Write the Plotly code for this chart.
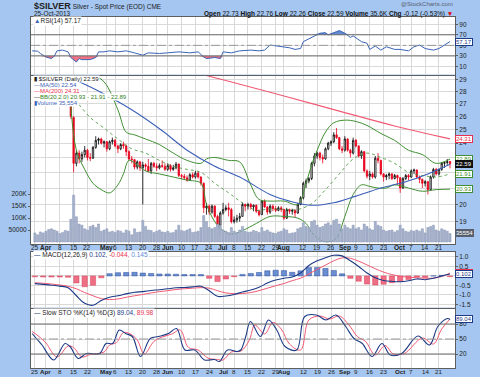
import numpy as np
import pandas as pd
import plotly.graph_objects as go

# ---------------- data ----------------
holidays = ["2013-03-29", "2013-05-27", "2013-07-04", "2013-09-02"]
dates = [d for d in pd.bdate_range("2013-03-25", "2013-10-25") if d.strftime("%Y-%m-%d") not in holidays]
idx = list(range(len(dates)))

opens = [28.70, 28.60, 28.55, 28.40, 28.30, 28.10, 27.70, 27.20, 27.00, 27.50, 27.40, 27.70, 27.60, 27.10, 25.90,
         22.60, 23.30, 22.90, 23.20, 23.50, 23.00, 22.95, 23.70, 24.20, 24.30, 24.00, 24.10, 23.60, 24.10, 24.20,
         23.80, 23.60, 23.90, 23.80, 23.40, 22.90, 22.85, 22.35, 22.70, 22.30, 22.50, 22.40, 22.10, 22.60, 22.40,
         22.30, 22.45, 22.40, 22.20, 22.45, 22.20, 22.30, 22.55, 21.80, 21.75, 21.65, 21.50, 21.85, 21.70, 21.95,
         21.70, 21.30, 19.80, 19.90, 19.55, 19.90, 19.30, 18.80, 19.50, 19.70, 19.80, 19.70, 19.00, 19.10, 19.20,
         19.30, 20.00, 19.90, 20.00, 19.85, 19.95, 19.60, 19.40, 20.20, 19.85, 19.55, 19.90, 19.75, 19.65, 19.80,
         19.70, 19.20, 19.70, 19.60, 19.65, 19.50, 20.00, 20.40, 21.30, 21.45, 21.60, 22.60, 23.10, 23.30, 23.00,
         22.90, 23.60, 24.00, 24.10, 24.60, 24.40, 23.60, 23.50, 24.30, 23.50, 23.30, 24.20, 23.80, 23.10, 23.40,
         22.10, 21.75, 21.90, 21.70, 22.95, 22.80, 21.90, 21.70, 21.80, 21.90, 21.60, 21.80, 21.65, 21.00, 21.60,
         21.80, 21.70, 22.10, 22.15, 21.70, 21.55, 21.30, 21.40, 20.90, 21.70, 22.20, 21.90, 22.20, 22.60, 22.65,
         22.73]
highs = [28.95, 28.80, 28.75, 28.60, 28.45, 28.20, 27.85, 27.50, 27.70, 27.65, 27.90, 27.85, 27.75, 27.20, 26.00,
         23.50, 23.50, 23.40, 23.80, 23.60, 23.30, 23.80, 24.50, 24.40, 24.40, 24.20, 24.15, 24.20, 24.40, 24.30,
         23.90, 24.00, 24.10, 23.90, 23.50, 23.10, 22.90, 22.80, 22.75, 22.70, 22.60, 22.90, 22.70, 22.70, 22.60,
         22.60, 22.80, 22.60, 22.60, 22.55, 22.50, 22.70, 22.60, 21.90, 21.90, 21.80, 21.95, 22.00, 22.10, 22.10,
         21.75, 21.35, 20.10, 20.00, 20.00, 19.95, 19.40, 19.60, 20.10, 19.95, 20.10, 19.80, 19.30, 19.40, 19.50,
         20.10, 20.05, 20.10, 20.10, 20.00, 20.00, 19.70, 20.25, 20.30, 19.90, 20.00, 20.00, 19.90, 19.90, 19.90,
         19.75, 19.80, 19.75, 19.75, 19.70, 20.10, 20.50, 21.40, 21.60, 21.70, 22.70, 23.30, 23.40, 23.40, 23.20,
         23.70, 24.10, 24.20, 24.80, 25.10, 24.45, 23.80, 24.50, 24.35, 23.60, 24.40, 24.30, 23.85, 23.50, 23.45,
         22.20, 22.10, 22.00, 23.10, 23.30, 22.85, 21.95, 21.90, 22.00, 21.95, 21.90, 21.85, 21.70, 21.70, 21.90,
         21.90, 22.20, 22.25, 22.20, 21.80, 21.60, 21.50, 21.45, 21.80, 22.30, 22.30, 22.25, 22.70, 22.70, 22.90,
         22.76]
lows = [28.40, 28.45, 28.30, 28.20, 27.95, 27.60, 27.05, 26.80, 26.85, 27.20, 27.30, 27.40, 27.10, 25.80, 22.00,
        22.40, 22.60, 22.70, 23.00, 22.80, 22.75, 22.90, 23.60, 23.90, 23.90, 23.70, 23.40, 23.50, 23.90, 23.70,
        23.30, 23.50, 23.60, 23.10, 22.80, 22.60, 22.20, 22.20, 22.10, 20.00, 22.10, 22.00, 21.90, 22.30, 22.10,
        22.20, 22.30, 22.10, 22.10, 22.05, 22.10, 22.20, 21.70, 21.55, 21.50, 21.40, 21.45, 21.60, 21.60, 21.60,
        21.15, 19.50, 19.40, 19.40, 19.45, 19.20, 18.60, 18.20, 19.40, 19.60, 19.30, 18.90, 18.90, 18.95, 19.00,
        19.30, 19.60, 19.70, 19.70, 19.60, 19.50, 19.30, 19.40, 19.80, 19.40, 19.45, 19.60, 19.55, 19.60, 19.55,
        19.10, 19.15, 19.45, 19.40, 19.25, 19.45, 19.95, 20.30, 21.00, 21.30, 21.50, 22.40, 22.90, 22.80, 22.60,
        22.85, 23.50, 23.80, 24.00, 24.30, 23.50, 23.30, 23.40, 23.40, 23.00, 23.20, 23.70, 23.00, 22.90, 22.00,
        21.60, 21.50, 21.60, 21.60, 22.60, 21.80, 21.40, 21.50, 21.55, 21.50, 21.55, 21.20, 20.70, 20.95, 21.50,
        21.50, 21.65, 21.90, 21.60, 21.30, 21.00, 21.10, 20.60, 20.85, 21.60, 21.80, 21.80, 22.10, 22.30, 22.50,
        22.26]
closes = [28.60, 28.55, 28.40, 28.30, 28.10, 27.70, 27.20, 27.00, 27.50, 27.40, 27.70, 27.60, 27.25, 26.00, 22.60,
          23.30, 22.90, 23.20, 23.50, 23.00, 22.95, 23.70, 24.20, 24.30, 24.00, 24.10, 23.60, 24.10, 24.20, 23.80,
          23.60, 23.90, 23.80, 23.40, 22.90, 22.85, 22.35, 22.70, 22.30, 22.50, 22.40, 22.10, 22.60, 22.40, 22.30,
          22.45, 22.40, 22.20, 22.45, 22.20, 22.30, 22.55, 21.80, 21.75, 21.65, 21.50, 21.85, 21.70, 21.95, 21.70,
          21.30, 19.80, 19.90, 19.55, 19.90, 19.30, 18.80, 19.50, 19.70, 19.80, 19.70, 19.00, 19.10, 19.20, 19.30,
          20.00, 19.90, 20.00, 19.85, 19.95, 19.60, 19.40, 20.20, 19.85, 19.55, 19.90, 19.75, 19.65, 19.80, 19.70,
          19.20, 19.70, 19.60, 19.65, 19.50, 20.00, 20.40, 21.30, 21.45, 21.60, 22.60, 23.10, 23.30, 23.00, 22.90,
          23.60, 24.00, 24.10, 24.60, 24.40, 23.60, 23.50, 24.30, 23.50, 23.30, 24.20, 23.80, 23.10, 23.40, 22.10,
          21.75, 21.90, 21.70, 22.95, 22.80, 21.90, 21.70, 21.80, 21.90, 21.60, 21.80, 21.65, 21.00, 21.60, 21.80,
          21.70, 22.10, 22.15, 21.70, 21.55, 21.30, 21.40, 20.90, 21.70, 22.20, 21.90, 22.20, 22.60, 22.65, 22.71,
          22.59]
volume = [38000, 30000, 42000, 38000, 45000, 52000, 55000, 50000, 45000, 35000, 40000, 48000, 45000, 95000, 195000,
          105000, 75000, 70000, 55000, 50000, 65000, 70000, 60000, 75000, 45000, 50000, 55000, 42000, 45000, 40000,
          48000, 45000, 38000, 50000, 45000, 30000, 55000, 40000, 42000, 90000, 65000, 50000, 48000, 40000, 45000,
          50000, 42000, 40000, 45000, 38000, 40000, 50000, 70000, 48000, 45000, 50000, 55000, 40000, 42000, 45000,
          60000, 110000, 85000, 60000, 55000, 60000, 75000, 70000, 50000, 45000, 40000, 60000, 45000, 40000, 50000,
          65000, 45000, 40000, 42000, 48000, 45000, 40000, 60000, 45000, 50000, 42000, 38000, 35000, 42000, 45000,
          55000, 50000, 35000, 38000, 40000, 55000, 60000, 80000, 65000, 60000, 85000, 90000, 70000, 60000, 65000,
          75000, 80000, 70000, 90000, 95000, 75000, 55000, 70000, 60000, 55000, 70000, 55000, 60000, 50000, 75000,
          65000, 55000, 50000, 85000, 70000, 65000, 50000, 45000, 48000, 50000, 42000, 48000, 70000, 55000, 45000,
          42000, 48000, 45000, 50000, 45000, 55000, 38000, 60000, 65000, 70000, 50000, 45000, 55000, 50000, 45000,
          35554]

# overlays (trading-day index, value)
ma50_idx = [16, 24, 35, 46, 55, 65, 74, 85, 92, 100, 108, 116, 125, 134, 142, 150]
ma50_val = [28.8, 27.9, 26.5, 24.9, 23.5, 22.4, 21.7, 20.6, 20.2, 19.95, 20.1, 20.5, 21.0, 21.4, 21.9, 22.54]
ma200_idx = [55, 70, 90, 110, 130, 150]
ma200_val = [29.79, 28.85, 27.62, 26.40, 25.26, 24.31]
bbu_idx = [13, 15, 20, 25, 30, 33, 36, 40, 45, 50, 55, 60, 62, 65, 70, 74, 78, 81, 85, 90, 95, 98, 100, 102, 105,
           108, 112, 116, 120, 125, 130, 135, 140, 145, 150]
bbu_val = [28.8, 29.5, 29.5, 28.8, 26.5, 24.8, 24.6, 24.3, 23.9, 23.3, 22.8, 22.6, 22.9, 23.0, 22.8, 22.7, 21.2, 20.3,
           20.2, 20.2, 20.0, 21.3, 22.5, 23.5, 24.8, 25.5, 25.7, 25.6, 25.3, 24.7, 24.2, 23.5, 23.2, 22.6, 22.89]
bbm_idx = [13, 16, 20, 25, 30, 35, 40, 45, 50, 55, 60, 65, 70, 75, 80, 85, 90, 95, 100, 105, 110, 115, 120, 125, 130,
           135, 140, 145, 150]
bbm_val = [27.6, 26.9, 25.9, 25.1, 24.3, 23.6, 23.3, 22.8, 22.4, 22.2, 22.0, 21.3, 20.7, 20.1, 19.65, 19.75, 19.7,
           19.7, 20.05, 20.9, 21.9, 22.9, 23.3, 23.0, 22.6, 22.0, 21.8, 21.7, 21.91]
bbl_idx = [13, 15, 18, 21, 24, 27, 30, 32, 34, 37, 40, 45, 50, 55, 60, 62, 65, 68, 71, 75, 80, 85, 90, 95, 98, 100,
           103, 106, 109, 112, 115, 118, 121, 124, 127, 130, 135, 140, 145, 150]
bbl_val = [26.8, 23.5, 22.2, 21.3, 20.9, 20.7, 21.2, 21.9, 22.8, 22.5, 22.1, 21.9, 21.7, 21.5, 21.3, 20.0, 19.0, 18.5,
           18.3, 18.5, 18.9, 19.3, 19.3, 19.2, 18.9, 18.4, 18.0, 17.9, 18.1, 19.3, 20.6, 21.2, 21.1, 21.0, 21.0, 21.2,
           21.0, 20.8, 20.9, 20.93]

rsi_idx = [-1, 1, 2, 4, 6, 7, 8, 10, 12, 13, 15, 16, 17, 20, 22, 23, 25, 27, 30, 33, 36, 39, 41, 45, 48, 52, 56, 59,
           61, 62, 65, 67, 68, 71, 74, 78, 81, 83, 85, 89, 92, 94, 96, 97, 100, 103, 105, 106, 109, 110, 112, 114,
           115, 118, 120, 121, 123, 125, 127, 130, 132, 135, 137, 139, 141, 144, 146, 148, 150]
rsi_val = [39.6, 39, 34.6, 28, 25, 29.5, 39.6, 41, 37.7, 27, 18.5, 25, 23, 23, 27, 37.7, 37.7, 39.6, 37.7, 39.6, 35.8,
           31.3, 35.8, 34.6, 35.8, 37.7, 35.8, 37.7, 28, 25, 27, 25, 37.7, 35.8, 39.6, 41, 39.6, 41, 50.6, 47.3, 45.4,
           42.3, 44, 57, 65, 73, 74, 70, 76, 78, 73, 65, 68, 57, 54, 42.3, 48.7, 41, 47.3, 42.3, 42.3, 39.6, 47.3, 50.6,
           44, 41, 44, 50.6, 57.17]

macd_idx = list(range(0, 151, 3))
macd_val = [-0.41, -0.45, -0.49, -0.54, -0.62, -1.05, -1.45, -1.55, -1.30, -1.13, -1.05, -0.95, -0.86, -0.83, -0.77,
            -0.73, -0.68, -0.63, -0.61, -0.58, -0.55, -0.78, -1.08, -1.06, -0.98, -0.85, -0.75, -0.60, -0.38, -0.22,
            -0.12, -0.06, 0.15, 0.55, 0.80, 0.96, 1.09, 1.06, 0.80, 0.50, 0.15, -0.10, -0.24, -0.29, -0.31, -0.26,
            -0.16, -0.20, -0.12, 0.00, 0.102]
signal_val = [-0.36, -0.39, -0.43, -0.48, -0.55, -0.68, -0.88, -1.05, -1.20, -1.25, -1.22, -1.13, -1.05, -0.98, -0.90,
              -0.83, -0.78, -0.72, -0.68, -0.65, -0.62, -0.65, -0.78, -0.90, -0.94, -0.93, -0.88, -0.78, -0.65, -0.52,
              -0.40, -0.25, -0.12, 0.10, 0.35, 0.57, 0.80, 0.95, 0.93, 0.78, 0.58, 0.38, 0.20, 0.07, -0.02, -0.07,
              -0.10, -0.12, -0.12, -0.03, 0.145]

stok_idx = [-1, 1, 2.6, 6.8, 10.9, 12.7, 15.7, 18.6, 23.4, 25.7, 28.1, 30.5, 32.8, 35.2, 38.2, 41.7, 44.7, 48.3,
            51.2, 54.2, 57.8, 61.3, 64.9, 66.7, 69.6, 73.2, 74.4, 76.2, 77.9, 81.5, 84.4, 87.4, 90.4, 94.6, 97.5,
            101.7, 105.2, 108.8, 112.3, 115.3, 118.3, 121.8, 125.4, 128.4, 132.5, 138.4, 142.6, 145.6, 149.1, 150]
stok_val = [61, 48, 38, 8, 41, 35, 11, 21, 21, 41, 41, 68, 61, 55, 15, 51, 55, 61, 71, 28, 28, 8, 9, 5, 28, 25, 28,
            55, 85, 55, 88, 68, 35, 28, 95, 98, 88, 98, 75, 51, 41, 15, 41, 18, 21, 56, 38, 75, 91, 89.04]
stod_idx = [-1, 1.5, 4, 8, 12, 14, 17, 20, 25, 27, 29.5, 32, 34.5, 37, 39.5, 43, 46, 49.5, 52.5, 55.5, 59, 62.5, 66,
            68, 71, 74.5, 77.5, 79.5, 83, 86, 89, 92, 96, 99, 103, 106.5, 110, 113.5, 116.5, 119.5, 123, 126.5,
            129.5, 133.5, 140, 144, 147, 150]
stod_val = [65, 55, 42, 14, 36, 33, 14, 19, 24, 38, 43, 63, 60, 48, 20, 45, 54, 60, 68, 33, 28, 12, 9, 8, 24, 26, 48,
            78, 60, 83, 70, 40, 28, 88, 96, 90, 96, 78, 55, 45, 18, 37, 20, 21, 52, 40, 70, 89.98]

tick_dates = ["2013-03-25", "2013-04-01", "2013-04-08", "2013-04-15", "2013-04-22", "2013-05-01", "2013-05-06",
              "2013-05-13", "2013-05-20", "2013-05-28", "2013-06-03", "2013-06-10", "2013-06-17", "2013-06-24",
              "2013-07-01", "2013-07-08", "2013-07-15", "2013-07-22", "2013-07-29", "2013-08-01", "2013-08-12",
              "2013-08-19", "2013-08-26", "2013-09-03", "2013-09-09", "2013-09-16", "2013-09-23", "2013-10-01",
              "2013-10-07", "2013-10-14", "2013-10-21"]
tick_text = ["25", "Apr", "8", "15", "22", "May", "6", "13", "20", "28", "Jun", "10", "17", "24", "Jul", "8", "15",
             "22", "29", "Aug", "12", "19", "26", "Sep", "9", "16", "23", "Oct", "7", "14", "21"]
month_names = {"Apr", "May", "Jun", "Jul", "Aug", "Sep", "Oct"}

# ---------------- geometry helpers ----------------
W, H = 480, 377
ML, MR, MT, MB = 27, 22, 17, 9
PW, PH = W - ML - MR, H - MT - MB


def py(y):  # pixel y -> paper
    return (H - MB - y) / PH


def px(x):
    return (x - ML) / PW


date_str = [d.strftime("%Y-%m-%d") for d in dates]
tick_idx = [date_str.index(t) for t in tick_dates]
XR = [-1.4, 151.8]

FONT = "Liberation Sans"
NAVY = "#1d3a86"
RED = "#e8304f"
PINK = "#f25a74"
GREEN = "#3f8f32"
GRID = "#d9d9d9"
BORDER = "#5e5e5e"

fig = go.Figure()

# ---- main panel ----
fig.add_trace(go.Bar(x=idx, y=volume, xaxis="x2", yaxis="y5",
                     marker=dict(color="#a7b3cd", line=dict(color="#8593b3", width=0.5)), hoverinfo="skip"))
fig.add_trace(go.Scatter(x=bbu_idx, y=bbu_val, xaxis="x2", yaxis="y2", mode="lines",
                         line=dict(color=GREEN, width=1, shape="spline")))
fig.add_trace(go.Scatter(x=bbl_idx, y=bbl_val, xaxis="x2", yaxis="y2", mode="lines",
                         line=dict(color=GREEN, width=1, shape="spline")))
fig.add_trace(go.Scatter(x=bbm_idx, y=bbm_val, xaxis="x2", yaxis="y2", mode="lines",
                         line=dict(color=GREEN, width=0.8, dash="dot", shape="spline")))
fig.add_trace(go.Scatter(x=ma200_idx, y=ma200_val, xaxis="x2", yaxis="y2", mode="lines",
                         line=dict(color=PINK, width=1.1, shape="spline")))
fig.add_trace(go.Scatter(x=ma50_idx, y=ma50_val, xaxis="x2", yaxis="y2", mode="lines",
                         line=dict(color="#3b5fb8", width=1.1, shape="spline")))
fig.add_trace(go.Candlestick(x=idx, open=opens, high=highs, low=lows, close=closes, xaxis="x2", yaxis="y2",
                             increasing=dict(line=dict(color="#000000", width=0.8), fillcolor="#ffffff"),
                             decreasing=dict(line=dict(color="#e8001c", width=0.8), fillcolor="#e8001c"),
                             whiskerwidth=0, hoverinfo="skip"))

# ---- RSI panel ----
rsi = np.array(rsi_val)
fig.add_trace(go.Scatter(x=rsi_idx, y=[30] * len(rsi_idx), mode="lines", line=dict(width=0), hoverinfo="skip"))
fig.add_trace(go.Scatter(x=rsi_idx, y=np.minimum(rsi, 30), mode="lines", line=dict(width=0), fill="tonexty",
                         fillcolor="rgba(240,90,110,0.85)", hoverinfo="skip"))
fig.add_trace(go.Scatter(x=rsi_idx, y=[70] * len(rsi_idx), mode="lines", line=dict(width=0), hoverinfo="skip"))
fig.add_trace(go.Scatter(x=rsi_idx, y=np.maximum(rsi, 70), mode="lines", line=dict(width=0), fill="tonexty",
                         fillcolor="rgba(70,120,200,0.85)", hoverinfo="skip"))
fig.add_trace(go.Scatter(x=rsi_idx, y=rsi_val, mode="lines", line=dict(color="#3a64b8", width=1)))

# ---- MACD panel ----
hist = np.array(macd_val) - np.array(signal_val)
fig.add_trace(go.Bar(x=macd_idx, y=hist, xaxis="x3", yaxis="y3", width=1.9,
                     marker=dict(color=["#6a8ed0" if h >= 0 else "#ee6f84" for h in hist],
                                 line=dict(color=["#2d4f9e" if h >= 0 else "#d8405c" for h in hist], width=0.5))))
fig.add_trace(go.Scatter(x=macd_idx, y=signal_val, xaxis="x3", yaxis="y3", mode="lines",
                         line=dict(color=PINK, width=1, shape="spline")))
fig.add_trace(go.Scatter(x=macd_idx, y=macd_val, xaxis="x3", yaxis="y3", mode="lines",
                         line=dict(color=NAVY, width=1.1, shape="spline")))

# ---- Slow stochastic ----
fig.add_trace(go.Scatter(x=stod_idx, y=stod_val, xaxis="x4", yaxis="y4", mode="lines",
                         line=dict(color=PINK, width=1, shape="spline")))
fig.add_trace(go.Scatter(x=stok_idx, y=stok_val, xaxis="x4", yaxis="y4", mode="lines",
                         line=dict(color=NAVY, width=1.1, shape="spline")))

# ---------------- layout ----------------
dom_rsi = [py(74.5), 1.0]
dom_main = [py(244), py(75.5)]
dom_macd = [py(307.5), py(251.5)]
dom_sto = [0.0, py(309)]

xcommon = dict(range=XR, tickvals=tick_idx, showticklabels=False, ticks="", showgrid=True, gridcolor=GRID, gridwidth=1,
               zeroline=False, showline=True, mirror=True, linecolor=BORDER, linewidth=1, fixedrange=True)
ycommon = dict(side="right", showline=True, mirror=True, linecolor=BORDER, linewidth=1, ticks="outside", ticklen=2,
               tickcolor=BORDER, showgrid=True, gridcolor=GRID, zeroline=False,
               tickfont=dict(family=FONT, size=6.5, color="#222"), fixedrange=True)

layout = dict(
    width=W, height=H, margin=dict(l=ML, r=MR, t=MT, b=MB),
    paper_bgcolor="#a4c6f0", plot_bgcolor="#ffffff", showlegend=False, bargap=0.25,
    font=dict(family=FONT, size=7, color="#222"), hovermode=False,
    xaxis=dict(xcommon, anchor="y"),
    xaxis2=dict(xcommon, anchor="y2", rangeslider=dict(visible=False)),
    xaxis3=dict(xcommon, anchor="y3"),
    xaxis4=dict(xcommon, anchor="y4"),
    yaxis=dict(ycommon, domain=dom_rsi, anchor="x", range=[-5.2, 103.7], tickvals=[10, 30, 50, 70, 90]),
    yaxis2=dict(ycommon, domain=dom_main, anchor="x2", type="log",
                range=[np.log10(17.78), np.log10(29.35)], tickvals=list(range(19, 30)),
                ticktext=[str(v) for v in range(19, 30)]),
    yaxis5=dict(overlaying="y2", anchor="x2", side="left", range=[-8333, 693750], showgrid=False, zeroline=False,
                tickvals=[50000, 100000, 150000, 200000], ticktext=["50000", "100K", "150K", "200K"],
                ticks="outside", ticklen=2, tickcolor=BORDER, showline=False,
                tickfont=dict(family=FONT, size=6.5, color="#222"), fixedrange=True),
    yaxis3=dict(ycommon, domain=dom_macd, anchor="x3", range=[-1.67, 1.29],
                tickvals=[-1.5, -1.0, -0.5, 0, 0.5, 1.0], ticktext=["-1.5", "-1.0", "-0.5", "", "0.5", "1.0"]),
    yaxis4=dict(ycommon, domain=dom_sto, anchor="x4", range=[-8, 110], tickvals=[20, 50, 80]),
)
fig.update_layout(**layout)

# reference lines + legend backing box
shapes = []
for yv, style in [(70, "solid"), (30, "solid"), (50, "dashdot")]:
    shapes.append(dict(type="line", xref="x domain", yref="y", x0=0, x1=1, y0=yv, y1=yv,
                       line=dict(color="#6d6d6d" if style == "solid" else "#9a9a9a", width=1, dash=style)))
for yv, style in [(80, "solid"), (20, "solid"), (50, "dashdot")]:
    shapes.append(dict(type="line", xref="x4 domain", yref="y4", x0=0, x1=1, y0=yv, y1=yv,
                       line=dict(color="#6d6d6d" if style == "solid" else "#9a9a9a", width=1, dash=style)))
shapes.append(dict(type="rect", xref="paper", yref="paper", x0=px(27.6), x1=px(66), y0=py(106), y1=py(76),
                   fillcolor="#ffffff", line=dict(width=0), layer="above"))
fig.update_layout(shapes=shapes)

ann = []
# header
ann.append(dict(xref="paper", yref="paper", x=px(28), y=py(6), xanchor="left", yanchor="middle", showarrow=False,
                text="<b><span style='font-size:9px'>$SILVER</span></b> Silver - Spot Price (EOD) CME",
                font=dict(family=FONT, size=6.5, color="#222")))
ann.append(dict(xref="paper", yref="paper", x=px(28), y=py(13.8), xanchor="left", yanchor="middle", showarrow=False,
                text="25-Oct-2013", font=dict(family=FONT, size=6.5, color="#222")))
ann.append(dict(xref="paper", yref="paper", x=px(458), y=py(13.8), xanchor="right", yanchor="middle", showarrow=False,
                text="<b>Open</b> 22.73 <b>High</b> 22.76 <b>Low</b> 22.26 <b>Close</b> 22.59 <b>Volume</b> 35.6K "
                     "<b>Chg</b> -0.12 (-0.53%) <span style='color:#e00000'>▼</span>",
                font=dict(family=FONT, size=6.5, color="#111")))
ann.append(dict(xref="paper", yref="paper", x=px(458), y=py(4.2), xanchor="right", yanchor="middle", showarrow=False,
                text="@StockCharts.com", font=dict(family=FONT, size=6, color="#5a6070")))


def leg(y, text, size=6.5):
    ann.append(dict(xref="paper", yref="paper", x=px(29), y=py(y), xanchor="left", yanchor="middle", showarrow=False,
                    text=text, bgcolor="#ffffff", borderpad=0, font=dict(family=FONT, size=size, color="#222")))


leg(20.5, "<span style='color:#3a64b8'>▲</span>RSI(14) 57.17")
leg(79, "<b>▮</b> $SILVER (Daily) 22.59", 6)
leg(85, "<span style='color:#3b5fb8'>—MA(50) 22.54</span>", 6)
leg(91, "<span style='color:#e8304f'>—MA(200) 24.31</span>", 6)
leg(97, "—<span style='color:#2f7f22'>BB(20,2.0) 20.93 - 21.91 - 22.89</span>", 6)
leg(103, "<span style='color:#3b5fb8'>▮Volume 35,554</span>", 6)
leg(255, "<span style='color:#1d3a86'>—</span> MACD(12,26,9) <span style='color:#1d3a86'>0.102,</span> "
         "<span style='color:#e8304f'>-0.044,</span> <span style='color:#5a8ad8'>0.145</span>")
leg(313, "<span style='color:#1d3a86'>—</span> Slow STO %K(14) %D(3) <span style='color:#1d3a86'>89.04,</span> "
         "<span style='color:#e8304f'>89.98</span>")

# date labels (two rows)
for ti, tt in zip(tick_idx, tick_text):
    lab = f"<b>{tt}</b>" if tt in month_names else tt
    for yy, fs in ((247.5, 6.5), (371.5, 6.2)):
        ann.append(dict(xref="x2", yref="paper", x=ti, y=py(yy), xanchor="center", yanchor="middle", showarrow=False,
                        text=lab, font=dict(family=FONT, size=fs, color="#222")))


def vbox(yref, yv, text, fg, bg="#ffffff", bd=None):
    ann.append(dict(xref="paper", yref=yref, x=1.0, y=yv, xanchor="left", yanchor="middle", xshift=0, showarrow=False,
                    text=text, bgcolor=bg, bordercolor=bd or fg, borderwidth=1, borderpad=0,
                    font=dict(family=FONT, size=6, color=fg)))


vbox("y", 57.17, "57.17", NAVY)
vbox("y2", np.log10(24.31), "24.31", RED)
vbox("y2", np.log10(22.89), "22.89", GREEN)
vbox("y2", np.log10(22.59), "22.59", "#ffffff", "#111111", "#111111")
vbox("y2", np.log10(21.91), "21.91", GREEN)
vbox("y2", np.log10(20.93), "20.93", GREEN)
vbox("y5", 35554, "35554", "#ffffff", "#5a5f6e", "#5a5f6e")
vbox("y3", 0.145, "0.145", RED)
vbox("y3", 0.102, "0.102", NAVY)
vbox("y4", 89.98, "89.98", RED)
vbox("y4", 89.04, "89.04", NAVY)

fig.update_layout(annotations=ann)
fig.write_html("out.html", config={"displayModeBar": False},
               post_script="document.body.style.margin='0';document.body.style.overflow='hidden';")
